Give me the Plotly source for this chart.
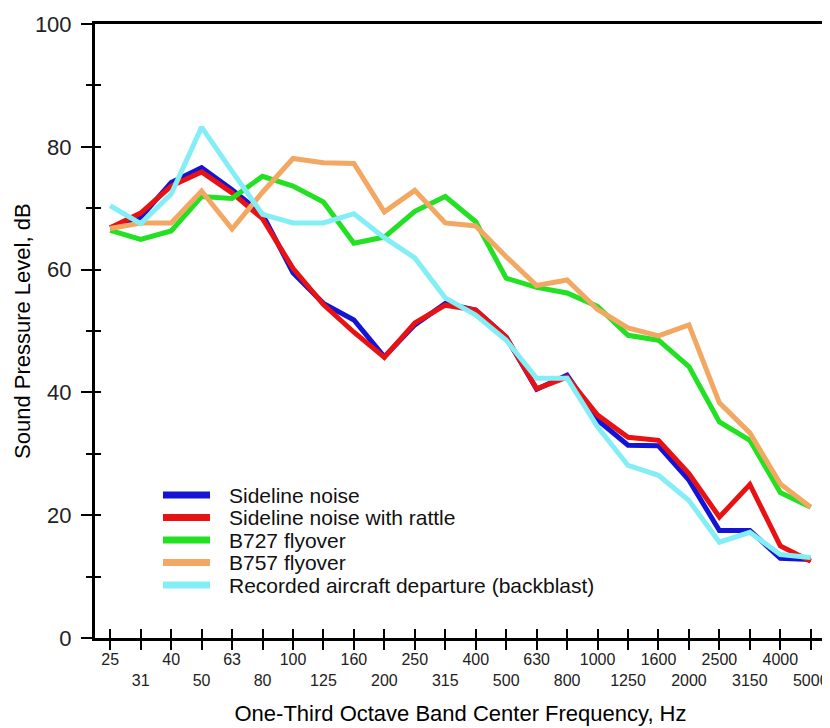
import plotly.graph_objects as go

bands = ["25", "31", "40", "50", "63", "80", "100", "125", "160", "200", "250", "315",
         "400", "500", "630", "800", "1000", "1250", "1600", "2000", "2500", "3150", "4000", "5000"]

sideline = [66.8, 68.5, 74.2, 76.6, 73.0, 69.0, 59.5, 54.5, 51.8, 45.8, 51.0, 54.5,
            53.4, 49.0, 40.5, 42.8, 35.5, 31.4, 31.3, 25.7, 17.5, 17.5, 13.0, 12.8]
sideline_rattle = [66.8, 69.2, 73.6, 75.9, 72.5, 68.3, 60.2, 54.3, 49.8, 45.7, 51.3, 54.2,
                   53.4, 49.0, 40.6, 42.5, 36.3, 32.7, 32.2, 26.8, 19.7, 25.0, 15.0, 12.5]
b727 = [66.4, 64.9, 66.3, 71.9, 71.6, 75.2, 73.6, 71.0, 64.3, 65.3, 69.5, 71.9,
        67.8, 58.6, 57.1, 56.2, 54.0, 49.3, 48.5, 44.2, 35.2, 32.2, 23.7, 21.3]
b757 = [66.7, 67.6, 67.6, 72.8, 66.6, 72.6, 78.1, 77.4, 77.3, 69.4, 72.9, 67.6,
        67.1, 62.1, 57.4, 58.3, 53.5, 50.5, 49.2, 51.0, 38.3, 33.4, 25.1, 21.3]
departure = [70.4, 67.5, 72.3, 83.2, 76.0, 69.0, 67.6, 67.6, 69.1, 65.2, 61.9, 55.4,
             52.6, 48.5, 42.3, 42.3, 34.4, 28.1, 26.5, 22.4, 15.6, 17.2, 13.6, 13.1]

series_names = ["Sideline noise", "Sideline noise with rattle", "B727 flyover",
                "B757 flyover", "Recorded aircraft departure (backblast)"]
series_values = [sideline, sideline_rattle, b727, b757, departure]
series_colors = ["#1414d6", "#e81212", "#22e022", "#f2a862", "#84eef6"]

y_major = [0, 20, 40, 60, 80, 100]
y_all = list(range(0, 101, 10))

FONT = "Liberation Sans, Arial, sans-serif"

fig = go.Figure()
for name, vals, col in zip(series_names, series_values, series_colors):
    fig.add_trace(go.Scatter(x=bands, y=vals, mode="lines", name=name,
                             line=dict(color=col, width=5), showlegend=False))

# empty trace to activate overlay axes (crossing ticks)
fig.add_trace(go.Scatter(x=[], y=[], xaxis="x2", yaxis="y2", showlegend=False))

ticktext = [b if i % 2 == 0 else "<br>" + b for i, b in enumerate(bands)]

# the page body has an 8px margin, so the figure is 8px smaller and shifted
fig.update_layout(
    width=822, height=720,
    margin=dict(l=87, r=4, t=16, b=90, autoexpand=False),
    paper_bgcolor="white", plot_bgcolor="white",
    font=dict(family=FONT, color="black"),
    xaxis=dict(type="category", categoryarray=bands, range=[-0.5, 23.5],
               tickmode="array", tickvals=bands, ticktext=ticktext, tickangle=0,
               automargin=False, ticklabelstandoff=-4,
               ticks="outside", ticklen=9, tickwidth=2, tickcolor="black",
               tickfont=dict(size=16, family=FONT, color="#222"),
               showline=True, linewidth=3, linecolor="black", mirror=True,
               showgrid=False, zeroline=False,
               title=dict(text="One-Third Octave Band Center Frequency, Hz",
                          font=dict(size=22, family=FONT), standoff=18)),
    yaxis=dict(range=[0, 100], tickmode="array", tickvals=y_major,
               automargin=False,
               ticks="outside", ticklen=11, tickwidth=2, tickcolor="black",
               ticklabelstandoff=5,
               minor=dict(tickvals=y_all, ticks="outside", ticklen=6, tickwidth=2, tickcolor="black"),
               tickfont=dict(size=22, family=FONT, color="#222"),
               showline=True, linewidth=3, linecolor="black", mirror=True,
               showgrid=False, zeroline=False),
    xaxis2=dict(overlaying="x", anchor="y", side="bottom", range=[-0.5, 23.5],
                tickmode="array", tickvals=list(range(len(bands))), ticks="inside",
                automargin=False,
                ticklen=9, tickwidth=2, tickcolor="black", showticklabels=False,
                showline=False, showgrid=False, zeroline=False),
    yaxis2=dict(overlaying="y", anchor="x", side="left", range=[0, 100],
                tickmode="array", tickvals=y_all, ticks="inside",
                automargin=False,
                ticklen=6, tickwidth=2, tickcolor="black", showticklabels=False,
                showline=False, showgrid=False, zeroline=False),
)

# page-pixel layout converted to paper coords
px0, pw, pbot, ph = 95, 731, 638, 614

# y-axis title
fig.add_annotation(xref="paper", yref="paper", x=(22 - px0) / pw, y=0.5,
                   xanchor="center", yanchor="middle", textangle=-90, showarrow=False,
                   text="Sound Pressure Level, dB", font=dict(size=22, family=FONT, color="black"))

# manual legend
row_px = [495, 517.5, 540, 562.5, 585]
for name, col, ry in zip(series_names, series_colors, row_px):
    yp = (pbot - ry) / ph
    fig.add_shape(type="line", xref="paper", yref="paper",
                  x0=(163 - px0) / pw, x1=(210 - px0) / pw, y0=yp, y1=yp,
                  line=dict(color=col, width=7))
    fig.add_annotation(xref="paper", yref="paper", x=(227 - px0) / pw, y=yp,
                       xanchor="left", yanchor="middle", showarrow=False,
                       text=name, font=dict(size=21, family=FONT, color="#111"))

fig.write_html("out.html")
